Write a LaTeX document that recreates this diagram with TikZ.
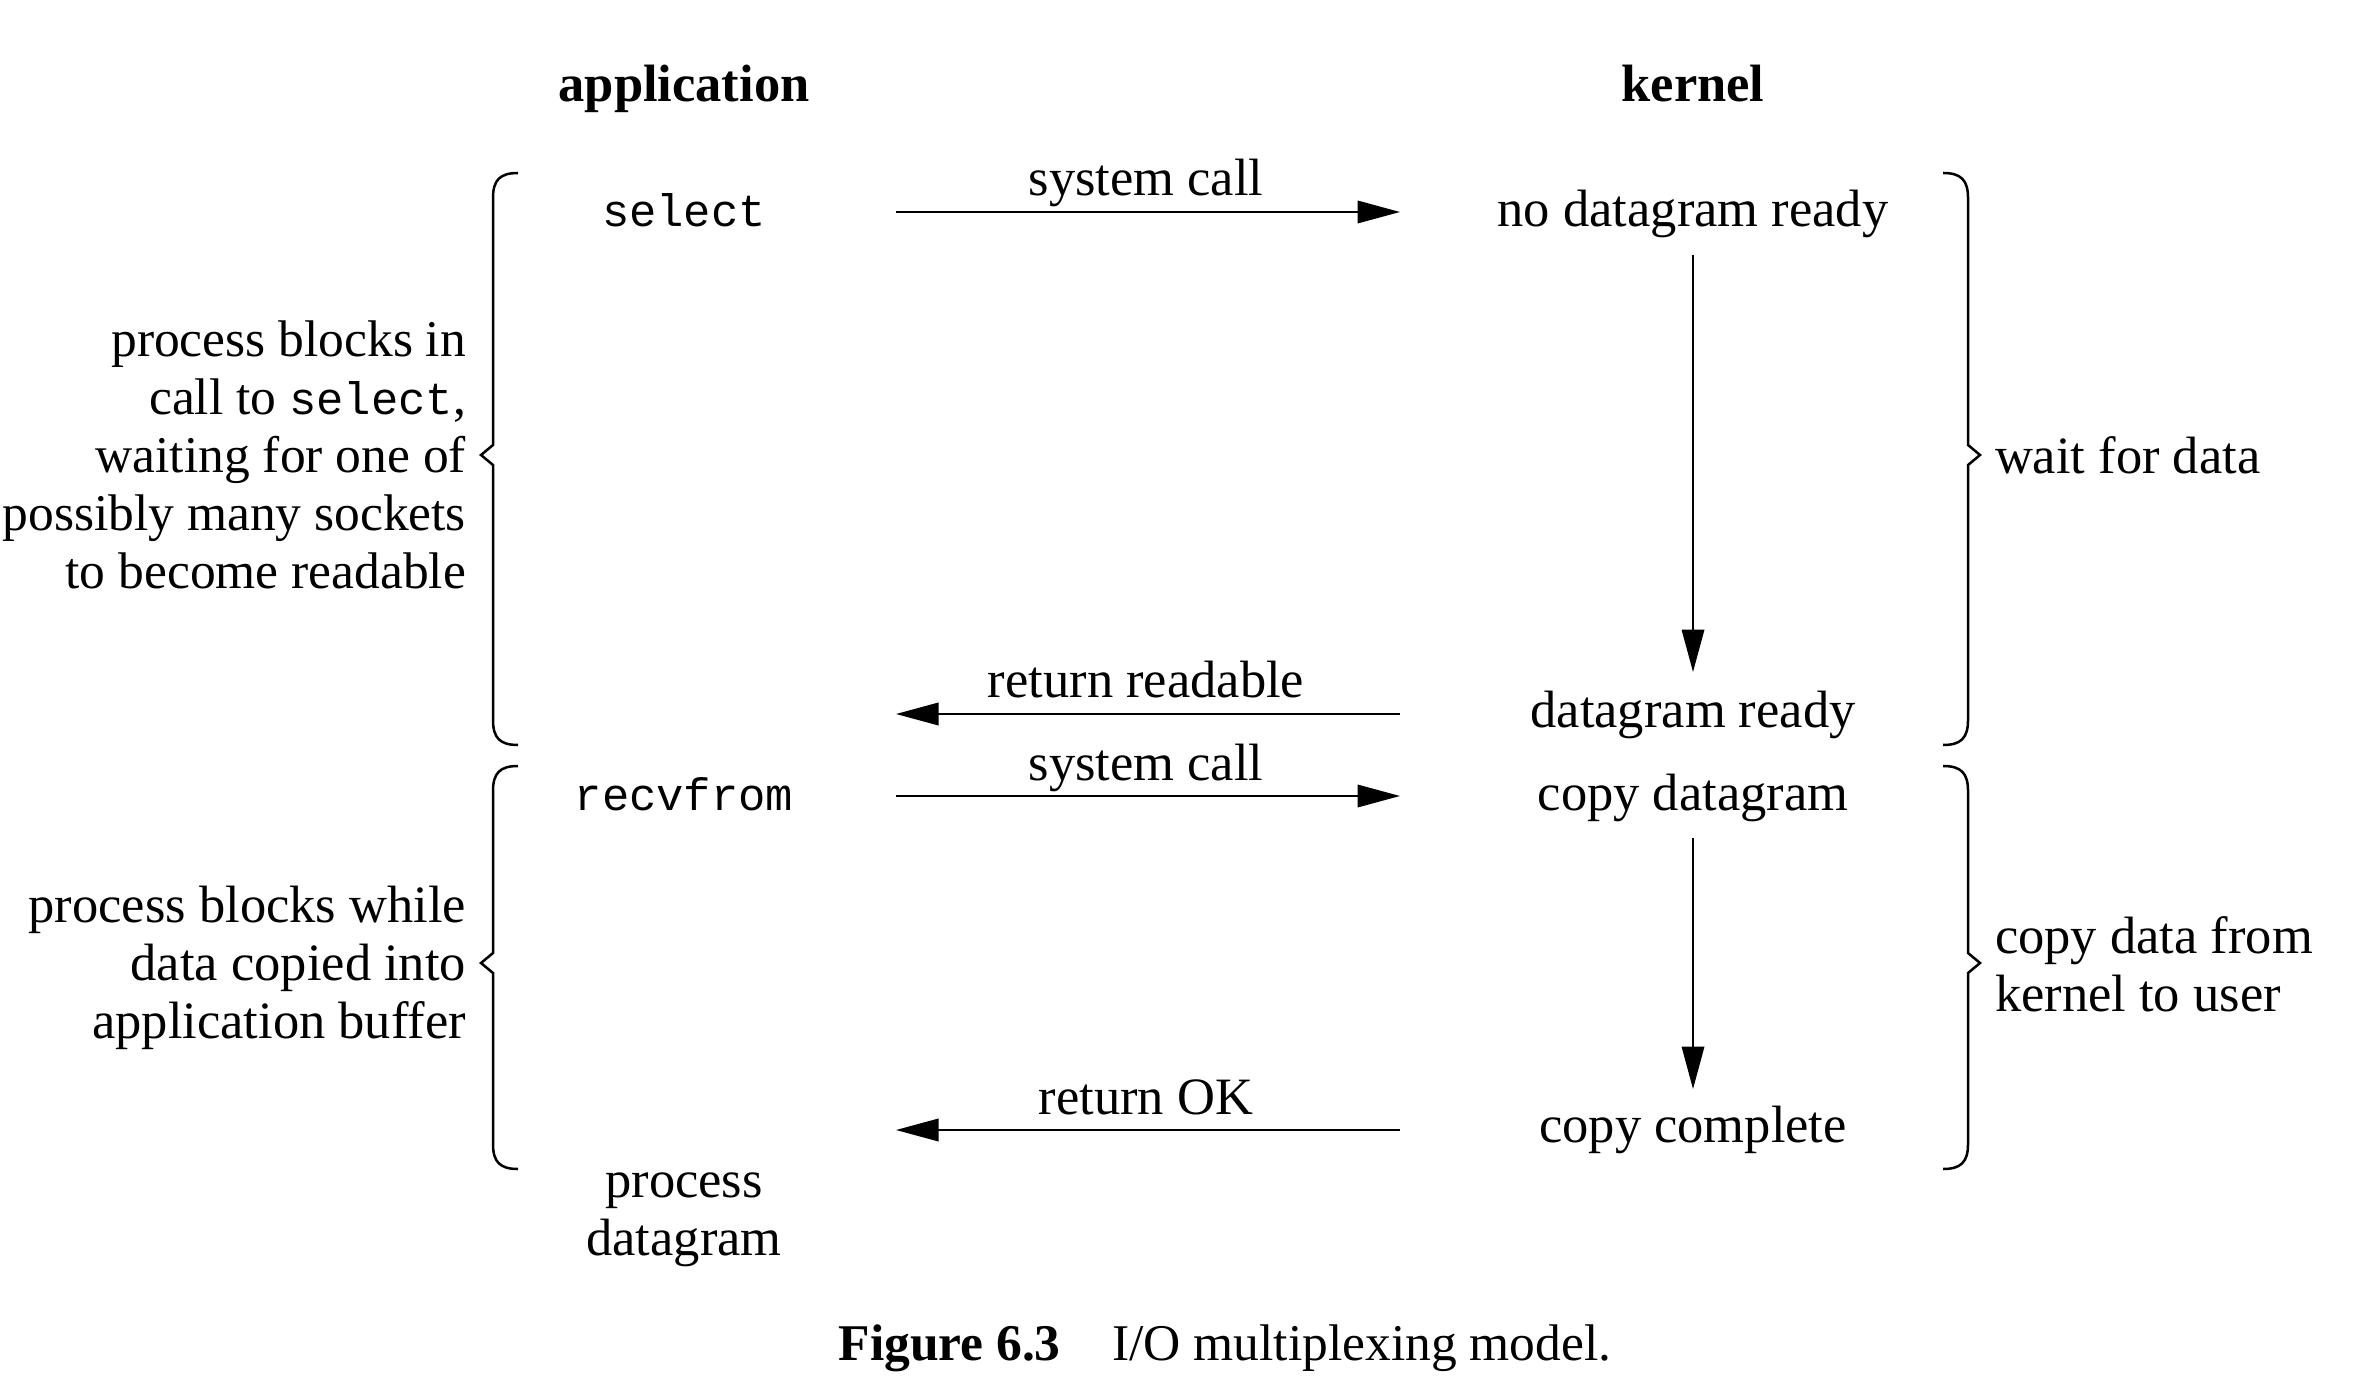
\documentclass[tikz,border=0pt]{standalone}
\usepackage{fontspec}
\setmainfont{Liberation Serif}
\setmonofont{Liberation Mono}
\usetikzlibrary{arrows.meta}
\begin{document}
\begin{tikzpicture}[x=0.2pt,y=-0.2pt,
  lbl/.style={anchor=base,inner sep=0pt,font=\fontsize{10.5}{11.6}\selectfont},
  blk/.style={inner sep=0pt,font=\fontsize{10.5}{11.6}\selectfont},
  code/.style={anchor=base,inner sep=0pt,font=\fontsize{9.1}{11.6}\selectfont\ttfamily},
  hdr/.style={anchor=base,inner sep=0pt,font=\fontsize{10.5}{11.6}\selectfont\bfseries},
  msg/.style={draw=black,line width=0.4pt,-{Triangle[length=8.5pt,width=4.5pt]}},
  brace/.style={draw=black,line width=0.5pt}]
\useasboundingbox (0,0) rectangle (2356,1384);

% headers
\node[hdr] (app) at (684,102) {application};
\node[hdr] (ker) at (1693,102) {kernel};

% application column
\node[code] (sel) at (684,227) {select};
\node[code] (recv) at (684,810) {recvfrom};
\node[blk,align=center] (proc) at (684,1220) {process\\datagram};

% kernel column
\node[lbl] (ndr) at (1693,227) {no datagram ready};
\node[lbl] (dr) at (1693,727) {datagram ready};
\node[lbl] (cd) at (1693,810) {copy datagram};
\node[lbl] (cc) at (1693,1142) {copy complete};

% arrow end points
\coordinate (a1s) at (896,212);  \coordinate (a1e) at (1400,212);
\coordinate (a2s) at (1400,714); \coordinate (a2e) at (896,714);
\coordinate (a3s) at (896,796);  \coordinate (a3e) at (1400,796);
\coordinate (a4s) at (1400,1130);\coordinate (a4e) at (896,1130);
\coordinate (v1s) at (1693,255); \coordinate (v1e) at (1693,672);
\coordinate (v2s) at (1693,838); \coordinate (v2e) at (1693,1089);

% arrows with labels
\draw[msg] (a1s) -- (a1e);
\node[lbl] (l1) at (1146,196) {system call};
\draw[msg] (a2s) -- (a2e);
\node[lbl] (l2) at (1146,697) {return readable};
\draw[msg] (a3s) -- (a3e);
\node[lbl] (l3) at (1146,780) {system call};
\draw[msg] (a4s) -- (a4e);
\node[lbl] (l4) at (1146,1114) {return OK};
\draw[msg] (v1s) -- (v1e);
\draw[msg] (v2s) -- (v2e);

% left braces
\draw[brace] (518,173) .. controls (500,173) and (493,180) .. (493,198) -- (493,445)
  -- (481,455) -- (493,465) -- (493,720) .. controls (493,738) and (500,745) .. (518,745);
\draw[brace] (518,766) .. controls (500,766) and (493,773) .. (493,791) -- (493,953)
  -- (481,963) -- (493,973) -- (493,1144) .. controls (493,1162) and (500,1169) .. (518,1169);
% right braces
\draw[brace] (1943,173) .. controls (1961,173) and (1968,180) .. (1968,198) -- (1968,445)
  -- (1980,455) -- (1968,465) -- (1968,720) .. controls (1968,738) and (1961,745) .. (1943,745);
\draw[brace] (1943,766) .. controls (1961,766) and (1968,773) .. (1968,791) -- (1968,953)
  -- (1980,963) -- (1968,973) -- (1968,1144) .. controls (1968,1162) and (1961,1169) .. (1943,1169);

% brace texts
\node[blk,align=right,anchor=east,font=\fontsize{10.3}{11.6}\selectfont] (b1) at (467,455)
  {process blocks in\\call to {\fontsize{9.1}{11.6}\selectfont\ttfamily select},\\waiting for one of\\possibly many sockets\\to become readable};
\node[blk,align=right,anchor=east] (b2) at (467,968)
  {process blocks while\\data copied into\\application buffer};
\node[blk,align=left,anchor=west] (b3) at (1994,455) {wait for data};
\node[blk,align=left,anchor=west] (b4) at (1994,964) {copy data from\\kernel to user};

% caption
\node[lbl,font=\fontsize{10.3}{11.6}\selectfont] (cap) at (1225,1360) {\textbf{Figure 6.3}\quad I/O multiplexing model.};
\end{tikzpicture}
\end{document}
